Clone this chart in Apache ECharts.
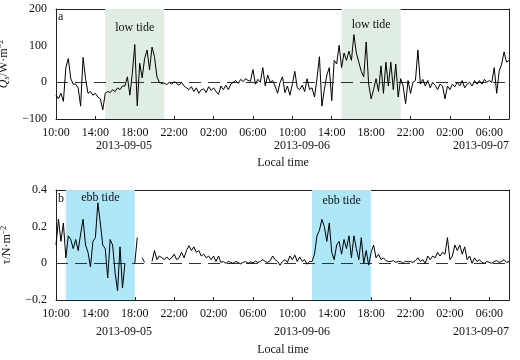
<!DOCTYPE html>
<html><head><meta charset="utf-8">
<script src="https://cdn.jsdelivr.net/npm/echarts/dist/echarts.min.js"></script>
<style>html,body{margin:0;padding:0;background:#fff}#c{width:520px;height:360px}</style>
</head><body><div id="c"></div>
<script>
// hours since 2013-09-05 10:00, 15-minute steps
const hours = [];
for (let i = 0; i <= 184; i++) hours.push(i / 4);

// Qs (W·m-2), 4 values per hour
const qValues = [
 -35,-45,-30,-52,  40,65,10,-5,  -5,-15,-65,68,  10,-30,-25,-35,
 -30,-40,-45,-75,  -30,-25,-28,-20,  -25,-15,-20,-10,  -10,15,-35,25,
 103,-64,52,12,  65,88,34,96,  70,15,0,-3,  -2,-6,0,-5,
 2,-3,-8,0,  -10,-15,-20,-12,  -25,-15,-30,-20,  -18,-28,-12,-22,
 -15,-25,-33,-10,  -20,-8,-20,-5,  0,5,-3,8,  2,10,5,3,
 35,-5,8,0,  40,-10,20,0,  5,-10,-30,0,  15,-28,-10,-35,
 -5,30,-15,-20,  -8,-25,10,-20,  -15,-40,10,70,  -65,-20,20,40,
 -50,60,50,101,  40,80,60,85,  60,130,80,55,  30,15,110,-5,
 -45,-20,10,-25,  45,-30,55,-10,  55,-20,50,-40,  10,-10,-58,5,
 -30,0,5,88,  -5,8,-10,5,  -15,0,-8,-20,  -5,-10,-45,-10,
 -20,-5,-12,0,  -10,5,-15,-5,  0,-10,5,-5,  5,-5,8,0,
 5,0,40,-30,  30,50,83,55,  60
];

// tau (N·m-2), 4 values per hour, null = gap
const tauValues = [
 0.10,0.24,0.12,0.22,  0.03,0.15,0.13,0.08,  0.13,0.07,0.16,0.24,  0.10,0.06,-0.02,0.12,
 0.14,0.33,0.22,0.10,  0.08,-0.08,0.13,0.10,  -0.05,-0.15,0.09,-0.135,  0.0,null,null,null,
 0.0,0.14,null,0.03,  0.005,null,null,0.01,  0.07,0.02,0.04,0.03,  0.02,0.035,0.02,0.03,
 0.05,0.02,0.03,0.06,  0.03,0.07,0.096,0.07,  0.09,0.06,0.07,0.04,  0.05,0.03,0.04,0.02,
 0.04,0.01,0.04,0.005,  0.01,0.0,0.01,0.005,  0.0,0.01,0.005,-0.003,  0.005,0.01,0.0,0.008,
 0.003,0.012,0.005,0.01,  0.02,0.01,0.005,0.015,  0.04,0.02,0.01,-0.01,  0.01,0.02,0.005,0.04,
 0.02,0.045,0.01,0.035,  0.01,0.02,-0.005,0.01,  0.01,0.05,0.15,0.18,  0.24,0.20,0.12,0.22,
 0.06,0.02,0.10,0.12,  0.05,0.13,0.08,0.15,  0.03,0.15,0.08,0.02,  0.14,0.0,0.07,-0.01,
 0.06,0.10,0.03,0.05,  0.02,0.03,0.015,0.01,  0.01,0.015,0.005,0.01,  0.01,0.0,0.012,0.008,
 0.01,0.005,0.015,0.03,  0.01,0.02,0.0,0.04,  0.02,0.04,0.03,0.06,  0.04,0.06,0.05,0.14,
 0.02,0.04,0.10,0.07,  0.10,0.05,0.09,0.02,  0.04,0.0,0.03,0.01,  0.02,0.005,0.0,0.01,
 0.005,0.0,0.01,0.015,  0.005,0.01,0.02,0.005,  0.01
];

const xTickLabels = ['10:00','14:00','18:00','22:00','02:00','06:00','10:00','14:00','18:00','22:00','02:00','06:00'];
const dateLabels = ['2013-09-05','2013-09-06','2013-09-07'];
const qTicks = ['\u2212100','0','100','200'];
const tauTicks = ['\u22120.2','0','0.2','0.4'];
const lowTide = [[5, 11], [29, 35]];
const ebbTide = [[1, 8], [26, 32]];
const lowTideLabel = 'low tide';
const ebbTideLabel = 'ebb tide';

const FF = 'Liberation Serif';
const chart = echarts.init(document.getElementById('c'), null, {renderer: 'canvas'});

const LINE = {show: true, onZero: false, lineStyle: {color: '#222', width: 1}};

function xAxisCfg(gi) {
  return {
    type: 'value', gridIndex: gi, min: 0, max: 46, interval: 4, position: 'bottom',
    axisLine: LINE,
    axisTick: {show: true, inside: true, length: 3, lineStyle: {color: '#222'}},
    splitLine: {show: false},
    axisLabel: {
      color: '#111', fontFamily: FF, fontSize: 12, margin: 8,
      formatter: v => (v % 4 === 0 && v <= 44) ? xTickLabels[v / 4] : ''
    }
  };
}
function xTopCfg(gi) {
  return {type: 'value', gridIndex: gi, min: 0, max: 46, position: 'top',
    axisLine: LINE, axisTick: {show: false}, axisLabel: {show: false}, splitLine: {show: false}};
}
function yRightCfg(gi, min, max) {
  return {type: 'value', gridIndex: gi, min, max, position: 'right',
    axisLine: LINE, axisTick: {show: false}, axisLabel: {show: false}, splitLine: {show: false}};
}
function yAxisCfg(gi, min, max, interval, ticks, name) {
  return {
    type: 'value', gridIndex: gi, min, max, interval, position: 'left',
    axisLine: LINE,
    axisTick: {show: false},
    splitLine: {show: false},
    axisLabel: {
      color: '#111', fontFamily: FF, fontSize: 12, margin: 9,
      formatter: v => ticks[Math.round((v - min) / interval)]
    },
    name, nameLocation: 'middle', nameGap: 36, nameRotate: 90,
    nameTextStyle: {
      color: '#111', fontFamily: FF, fontSize: 12, lineHeight: 14,
      rich: {
        i: {fontFamily: FF, fontSize: 12, fontStyle: 'italic', color: '#111', lineHeight: 14},
        si: {fontFamily: FF, fontSize: 8, fontStyle: 'italic', color: '#111', verticalAlign: 'bottom', lineHeight: 14},
        n: {fontFamily: FF, fontSize: 12, color: '#111', lineHeight: 14},
        p: {fontFamily: FF, fontSize: 8, color: '#111', verticalAlign: 'top', lineHeight: 14}
      }
    }
  };
}

function areaData(ranges, label, distances) {
  return ranges.map((r, k) => [
    {xAxis: r[0], name: label, label: {distance: distances[k]}},
    {xAxis: r[1]}
  ]);
}

const zeroLine = {
  silent: true, symbol: 'none',
  lineStyle: {color: '#333', type: [12, 7], width: 1},
  label: {show: false},
  data: [{yAxis: 0}]
};

chart.setOption({
  animation: false,
  backgroundColor: '#fff',
  grid: [
    {left: 56, right: 11, top: 9, height: 110, outerBoundsMode: 'none', containLabel: false},
    {left: 56, right: 11, top: 190, height: 110, outerBoundsMode: 'none', containLabel: false}
  ],
  xAxis: [xAxisCfg(0), xAxisCfg(1), xTopCfg(0), xTopCfg(1)],
  yAxis: [
    yAxisCfg(0, -100, 200, 100, qTicks, '{i|Q}{si|s}{n|/W\u00B7m}{p|\u22122}'),
    yAxisCfg(1, -0.2, 0.4, 0.2, tauTicks, '{n|\u03C4/N\u00B7m}{p|\u22122}'),
    yRightCfg(0, -100, 200), yRightCfg(1, -0.2, 0.4)
  ],
  series: [
    {
      type: 'line', xAxisIndex: 0, yAxisIndex: 0, data: [], z: 1, silent: true,
      markArea: {
        silent: true,
        itemStyle: {color: '#dfede2'},
        label: {show: true, position: 'insideTop', color: '#111', fontFamily: FF, fontSize: 12},
        data: areaData(lowTide, lowTideLabel, [13, 10])
      }
    },
    {
      type: 'line', xAxisIndex: 1, yAxisIndex: 1, data: [], z: 1, silent: true,
      markArea: {
        silent: true,
        itemStyle: {color: '#aee7f8'},
        label: {show: true, position: 'insideTop', color: '#111', fontFamily: FF, fontSize: 12},
        data: areaData(ebbTide, ebbTideLabel, [2, 5])
      }
    },
    {
      type: 'line', xAxisIndex: 0, yAxisIndex: 0, z: 5,
      data: hours.map((h, i) => [h, qValues[i]]),
      showSymbol: false, connectNulls: false,
      lineStyle: {color: '#000', width: 1},
      markLine: zeroLine
    },
    {
      type: 'line', xAxisIndex: 1, yAxisIndex: 1, z: 5,
      data: hours.map((h, i) => [h, tauValues[i]]),
      showSymbol: false, connectNulls: false,
      lineStyle: {color: '#000', width: 1},
      markLine: zeroLine
    }
  ],
  graphic: [
    {type: 'text', left: 58, top: 11, style: {text: 'a', font: '12px "Liberation Serif"', fill: '#111'}},
    {type: 'text', left: 58, top: 193, style: {text: 'b', font: '12px "Liberation Serif"', fill: '#111'}},
    {type: 'text', x: 124, y: 146, style: {text: dateLabels[0], font: '12px "Liberation Serif"', fill: '#111', align: 'center', verticalAlign: 'middle'}},
    {type: 'text', x: 302, y: 146, style: {text: dateLabels[1], font: '12px "Liberation Serif"', fill: '#111', align: 'center', verticalAlign: 'middle'}},
    {type: 'text', x: 481, y: 146, style: {text: dateLabels[2], font: '12px "Liberation Serif"', fill: '#111', align: 'center', verticalAlign: 'middle'}},
    {type: 'text', x: 283, y: 163, style: {text: 'Local time', font: '12px "Liberation Serif"', fill: '#111', align: 'center', verticalAlign: 'middle'}},
    {type: 'text', x: 124, y: 332, style: {text: dateLabels[0], font: '12px "Liberation Serif"', fill: '#111', align: 'center', verticalAlign: 'middle'}},
    {type: 'text', x: 302, y: 332, style: {text: dateLabels[1], font: '12px "Liberation Serif"', fill: '#111', align: 'center', verticalAlign: 'middle'}},
    {type: 'text', x: 481, y: 332, style: {text: dateLabels[2], font: '12px "Liberation Serif"', fill: '#111', align: 'center', verticalAlign: 'middle'}},
    {type: 'text', x: 283, y: 350, style: {text: 'Local time', font: '12px "Liberation Serif"', fill: '#111', align: 'center', verticalAlign: 'middle'}}
  ]
});
</script>
</body></html>
